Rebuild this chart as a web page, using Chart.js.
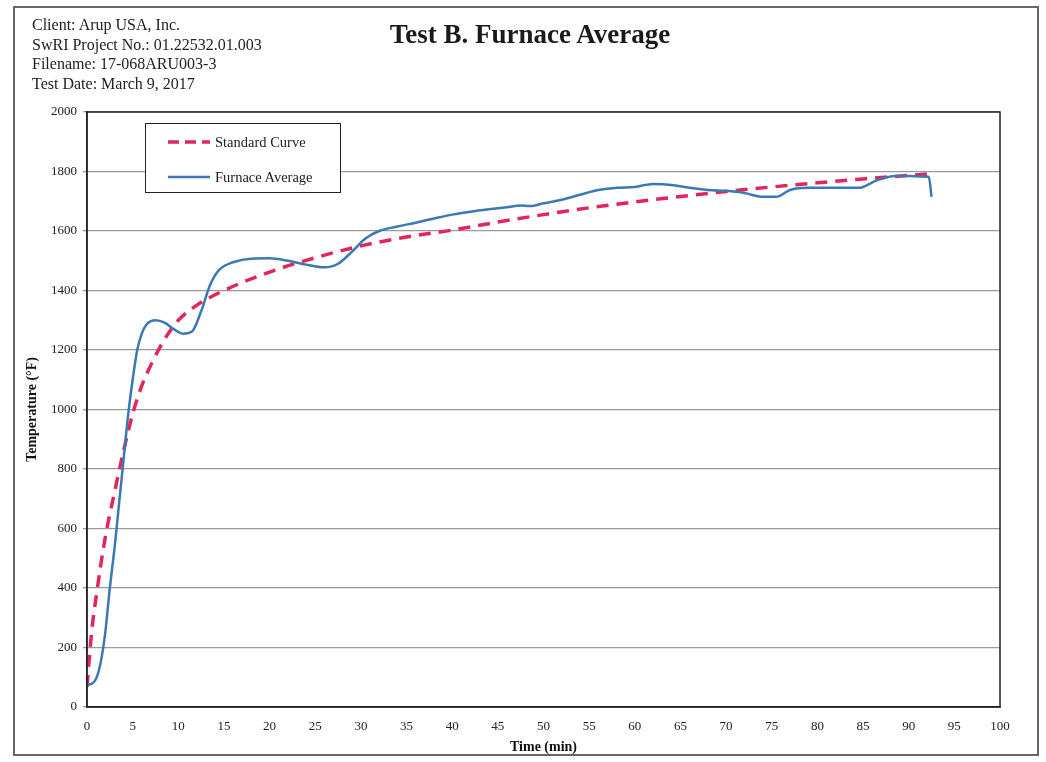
<!DOCTYPE html>
<html>
<head>
<meta charset="utf-8">
<title>Test B. Furnace Average</title>
<script src="https://cdn.jsdelivr.net/npm/chart.js@4.4.1/dist/chart.umd.min.js"></script>
<style>
  html, body { margin: 0; padding: 0; background: #fff; }
  #wrap { position: relative; width: 1046px; height: 762px; font-family: "Liberation Serif", "DejaVu Serif", serif; }
  #frame { position: absolute; left: 13px; top: 6px; width: 1026px; height: 750px; border: 2px solid #666; box-sizing: border-box; }
  #info { position: absolute; left: 32px; top: 15px; font-size: 16px; line-height: 19.5px; color: #222; }
  #title { position: absolute; left: 330px; width: 400px; top: 19px; text-align: center; font-size: 27px; font-weight: bold; color: #1a1a1a; }
  #legend { position: absolute; left: 145px; top: 123px; width: 196px; height: 70px; border: 1.5px solid #222; box-sizing: border-box; background: #fff; font-size: 14.5px; color: #222; }
  .row { position: absolute; left: 22px; height: 16px; display: flex; align-items: center; }
  .row svg { margin-right: 5px; }
  canvas { position: absolute; left: 0; top: 0; }
</style>
</head>
<body>
<div id="wrap">
  <canvas id="furnace-chart" width="1046" height="762"></canvas>
  <div id="frame"></div>
  <div id="info">
    Client: Arup USA, Inc.<br>
    SwRI Project No.: 01.22532.01.003<br>
    Filename: 17-068ARU003-3<br>
    Test Date: March 9, 2017
  </div>
  <div id="title">Test B. Furnace Average</div>
  <div id="legend">
    <div class="row" style="top:10px">
      <svg width="42" height="6"><line x1="0" y1="3" x2="42" y2="3" stroke="#e3265a" stroke-width="3.5" stroke-dasharray="11,6"/></svg>
      <span>Standard Curve</span>
    </div>
    <div class="row" style="top:45px">
      <svg width="42" height="6"><line x1="0" y1="3" x2="42" y2="3" stroke="#3a78b6" stroke-width="2.5"/></svg>
      <span>Furnace Average</span>
    </div>
  </div>
</div>
<script>
// values
const stdTime = [0, 0.5, 1, 2, 3, 4, 5, 6, 7, 8, 9, 10, 12, 15, 20, 25, 30, 35, 40, 45, 50, 55, 60, 65, 70, 75, 80, 85, 90, 92.5];
const stdTemp = [68, 250, 370, 570, 720, 860, 985, 1080, 1150, 1210, 1260, 1300, 1350, 1400, 1462, 1510, 1550, 1580, 1603, 1630, 1655, 1678, 1698, 1716, 1733, 1748, 1762, 1775, 1787, 1792];

const furnaceTime = [0, 0.5, 1, 1.5, 2, 2.5, 3, 3.5, 4, 4.5, 5, 5.5, 6, 6.5, 7.5, 8.5, 9.5, 10.5, 11.5, 12.5, 13.5, 14.5, 16, 18, 20, 22, 24, 26, 27.5, 29, 30.5, 32, 34, 36, 38, 40, 42, 44, 46, 47.5, 48.5, 50, 52, 54, 56, 58, 60, 62, 64, 66, 68, 70, 72, 74, 75.5, 77, 79, 82, 84.5, 86.5, 88.5, 90, 91.5, 92.2, 92.5];
const furnaceTemp = [75, 78, 95, 150, 250, 400, 530, 680, 830, 980, 1100, 1200, 1255, 1285, 1300, 1292, 1270, 1255, 1262, 1330, 1420, 1470, 1495, 1507, 1508, 1500, 1487, 1478, 1490, 1530, 1575, 1600, 1615, 1628, 1642, 1655, 1665, 1673, 1680, 1686, 1684, 1693, 1705, 1722, 1738, 1745, 1748, 1758, 1755, 1745, 1738, 1735, 1728, 1715, 1715, 1738, 1745, 1745, 1745, 1770, 1785, 1785, 1783, 1782, 1715];

const xTicks = [0, 5, 10, 15, 20, 25, 30, 35, 40, 45, 50, 55, 60, 65, 70, 75, 80, 85, 90, 95, 100];
const yTicks = [0, 200, 400, 600, 800, 1000, 1200, 1400, 1600, 1800, 2000];

const toPoints = (xs, ys) => xs.map((x, i) => ({ x, y: ys[i] }));

// draws the dark box round the plot area
const plotFrame = {
  id: "plotFrame",
  afterDraw(chart) {
    const { ctx, chartArea } = chart;
    ctx.save();
    ctx.strokeStyle = "#222";
    ctx.lineWidth = 1.5;
    ctx.strokeRect(chartArea.left, chartArea.top, chartArea.right - chartArea.left, chartArea.bottom - chartArea.top);
    ctx.restore();
  },
};

const serif = "'Liberation Serif', 'DejaVu Serif', serif";

new Chart(document.getElementById("furnace-chart"), {
  type: "line",
  data: {
    datasets: [
      {
        label: "Furnace Average",
        data: toPoints(furnaceTime, furnaceTemp),
        borderColor: "#3a78b6",
        borderWidth: 2.5,
        pointRadius: 0,
        cubicInterpolationMode: "monotone",
      },
      {
        label: "Standard Curve",
        data: toPoints(stdTime, stdTemp),
        borderColor: "#e3265a",
        borderWidth: 3.5,
        borderDash: [12, 8],
        pointRadius: 0,
        cubicInterpolationMode: "monotone",
      },
    ],
  },
  options: {
    responsive: false,
    animation: false,
    layout: { padding: { left: 22, top: 112, right: 46, bottom: 4 } },
    plugins: {
      legend: { display: false },
      tooltip: { enabled: false },
    },
    scales: {
      x: {
        type: "linear",
        min: 0,
        max: 100,
        afterBuildTicks: (scale) => { scale.ticks = xTicks.map((v) => ({ value: v })); },
        afterFit: (scale) => { scale.height = 51; },
        ticks: { font: { family: serif, size: 13 }, color: "#222", padding: 4, maxRotation: 0, callback: (v) => String(v) },
        grid: { display: false, drawTicks: true },
        border: { color: "#222", width: 1.5 },
        title: { display: true, text: "Time (min)", font: { family: serif, size: 14, weight: "bold" }, color: "#111", padding: { top: 0, bottom: 2 } },
      },
      y: {
        min: 0,
        max: 2000,
        afterBuildTicks: (scale) => { scale.ticks = yTicks.map((v) => ({ value: v })); },
        afterFit: (scale) => { scale.width = 65; },
        ticks: { font: { family: serif, size: 13 }, color: "#222", padding: 6, callback: (v) => String(v) },
        grid: { color: "#9a9a9a", lineWidth: 1.3, tickLength: 4 },
        border: { color: "#222", width: 1.5 },
        title: { display: true, text: "Temperature (°F)", font: { family: serif, size: 14, weight: "bold" }, color: "#111", padding: { top: 2, bottom: 0 } },
      },
    },
  },
  plugins: [plotFrame],
});
</script>
</body>
</html>
